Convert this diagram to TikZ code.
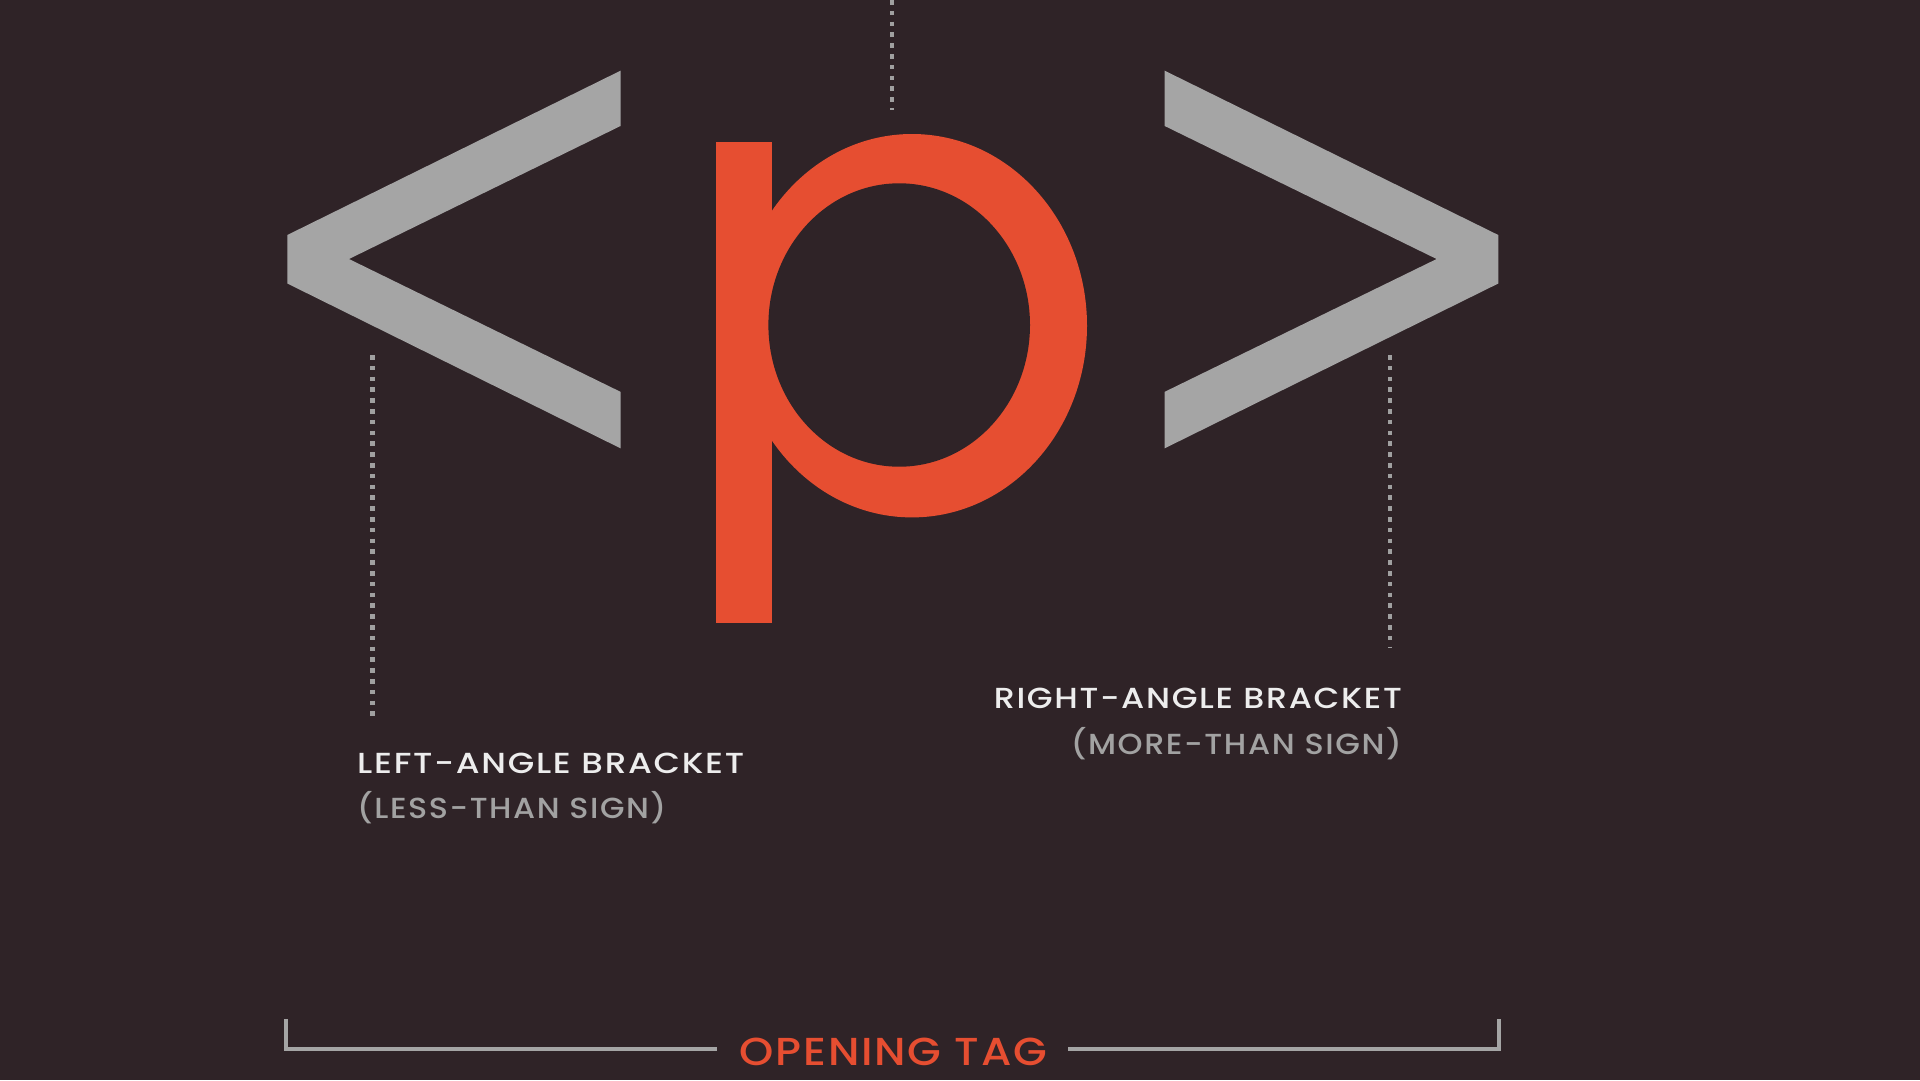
\documentclass[tikz,border=0pt]{standalone}
\usepackage{fontspec}
\usepackage{graphicx}
\setmainfont{Poppins}
\newfontfamily\lblfont{Poppins Medium}[LetterSpace=5]
\newfontfamily\tagfont{Poppins Medium}[LetterSpace=4]
\definecolor{bg}{HTML}{2F2327}
\definecolor{brgray}{HTML}{A5A5A5}
\definecolor{porange}{HTML}{E64E31}
\definecolor{txtwhite}{HTML}{EDEDED}
\definecolor{txtgray}{HTML}{A2A2A2}
\definecolor{dotgray}{HTML}{A0A0A0}
\newcommand{\fitw}[2]{\resizebox{#1}{\height}{#2}}
\begin{document}
\begin{tikzpicture}[x=1pt,y=-1pt,
  lbl/.style={inner sep=0pt,font=\lblfont\fontsize{29}{29}\selectfont,text=txtwhite},
  lblsub/.style={inner sep=0pt,font=\lblfont\fontsize{29}{29}\selectfont,text=txtgray},
  tagtext/.style={inner sep=0pt,font=\tagfont\fontsize{39}{39}\selectfont,text=porange},
  leader/.style={draw=dotgray,line width=4.5pt,dash pattern=on 4.5pt off 6.3pt},
  spanline/.style={draw=brgray,line width=4pt,line join=miter}]
\fill[bg] (0,0) rectangle (1920,1080);
\useasboundingbox (0,0) rectangle (1920,1080);
% left angle bracket
\fill[brgray] (620.5,70.7) -- (287.3,235) -- (287.3,283.5) -- (620.5,448.3)
  -- (620.5,391.8) -- (349,259) -- (620.5,126) -- cycle;
% right angle bracket
\fill[brgray] (1164.7,70.7) -- (1498.3,235) -- (1498.3,283.5) -- (1164.7,448.3)
  -- (1164.7,391.8) -- (1436.6,259) -- (1164.7,126) -- cycle;
% letter p
\fill[porange] (716,142.3) rectangle (771.5,622.7);
\fill[porange] (912,325.7) ellipse [x radius=175pt, y radius=191.7pt];
\fill[bg] (899.2,325) ellipse [x radius=130.8pt, y radius=141.7pt];
% leader lines
\coordinate (topA) at (892,0);
\coordinate (topB) at (892,110);
\coordinate (leftA) at (372.5,355);
\coordinate (leftB) at (372.5,718);
\coordinate (rightA) at (1390,355);
\coordinate (rightB) at (1390,647);
\draw[leader] (topA) -- (topB);
\draw[leader] (leftA) -- (leftB);
\draw[leader] (rightA) -- (rightB);
% labels
\node[lbl,anchor=base west] (lt1) at (357,773) {\fitw{387pt}{LEFT-ANGLE BRACKET}};
\node[lblsub,anchor=base west] (lt2) at (357,818) {\fitw{309pt}{(LESS-THAN SIGN)}};
\node[lbl,anchor=base east] (rt1) at (1402,708) {\fitw{408pt}{RIGHT-ANGLE BRACKET}};
\node[lblsub,anchor=base east] (rt2) at (1402,754) {\fitw{331pt}{(MORE-THAN SIGN)}};
\node[tagtext,anchor=base] (tag) at (893.4,1065) {\fitw{307pt}{OPENING TAG}};
% span bracket
\coordinate (sL0) at (286,1019);
\coordinate (sL1) at (286,1049.3);
\coordinate (sL2) at (716.7,1049.3);
\coordinate (sR0) at (1068,1049.3);
\coordinate (sR1) at (1499,1049.3);
\coordinate (sR2) at (1499,1019);
\draw[spanline] (sL0) -- (sL1) -- (sL2);
\draw[spanline] (sR0) -- (sR1) -- (sR2);
\end{tikzpicture}
\end{document}
